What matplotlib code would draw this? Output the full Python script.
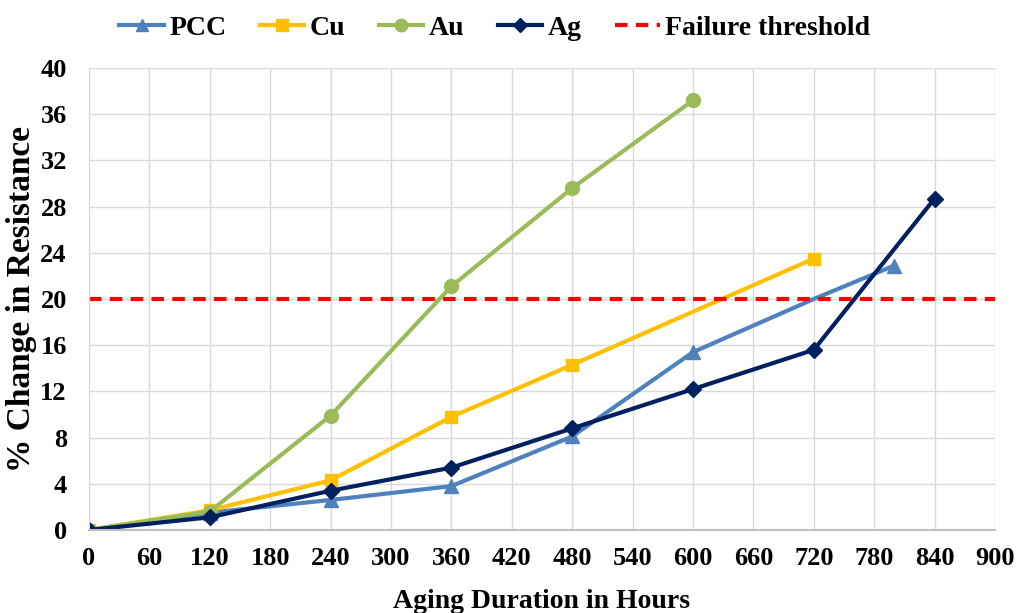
import numpy as np
import matplotlib.pyplot as plt

plt.rcParams['font.family'] = ['Liberation Serif', 'DejaVu Serif']
plt.rcParams['font.weight'] = 'bold'

pcc_x = [0, 120, 240, 360, 480, 600, 720, 800]
pcc_y = [0, 1.5, 2.6, 3.8, 8.1, 15.4, 20.0, 22.9]
cu_x = [0, 120, 240, 360, 480, 720]
cu_y = [0, 1.7, 4.3, 9.8, 14.3, 23.5]
au_x = [0, 120, 240, 360, 480, 600]
au_y = [0, 1.6, 9.9, 21.1, 29.6, 37.2]
ag_x = [0, 120, 240, 360, 480, 600, 720, 840]
ag_y = [0, 1.1, 3.4, 5.4, 8.8, 12.2, 15.6, 28.7]
threshold = 20
x_ticks = list(range(0, 901, 60))
y_ticks = list(range(0, 41, 4))

fig = plt.figure(figsize=(10.18, 6.13), dpi=100)
ax = fig.add_axes([0.0874, 0.1354, 0.89, 0.7536])

# PCC marker at 720 h sits hidden on the threshold line in the original
ax.plot(pcc_x, pcc_y, color='#4f81bd', lw=3, marker='^', ms=10,
        markevery=[0, 1, 2, 3, 4, 5, 7], label='PCC')
ax.plot(cu_x, cu_y, color='#ffc000', lw=3, marker='s', ms=9, label='Cu')
ax.plot(au_x, au_y, color='#9bbb59', lw=3, marker='o', ms=10, label='Au')
ax.plot(ag_x, ag_y, color='#002060', lw=3, marker='D', ms=8, label='Ag')
ax.axhline(threshold, color='#ff0000', lw=3, ls=(0, (3, 2)), label='Failure threshold')

ax.set_xlim(0, 900)
ax.set_ylim(0, 40)
ax.set_xticks(x_ticks)
ax.set_yticks(y_ticks)
ax.tick_params(labelsize=19, length=0)
ax.tick_params(axis='x', pad=12)
ax.tick_params(axis='y', pad=16)
ax.grid(True, color='#d9d9d9', lw=1)
ax.set_axisbelow(True)
for s in ['top', 'right']:
    ax.spines[s].set_visible(False)
ax.spines['left'].set_color('#d9d9d9')
ax.spines['bottom'].set_color('#bfbfbf')
ax.spines['bottom'].set_linewidth(1.5)

ax.set_xlabel('Aging Duration in Hours', fontsize=20, fontweight='bold', labelpad=14)
ax.set_ylabel('% Change in Resistance', fontsize=24, fontweight='bold', labelpad=2)

ax.legend(loc='lower center', bbox_to_anchor=(0.448, 1.005), ncol=5, frameon=False,
          fontsize=20, handlelength=1.6, columnspacing=1.2, handletextpad=0.2,
          markerscale=0.9)

fig.savefig('out.png', dpi=100)
